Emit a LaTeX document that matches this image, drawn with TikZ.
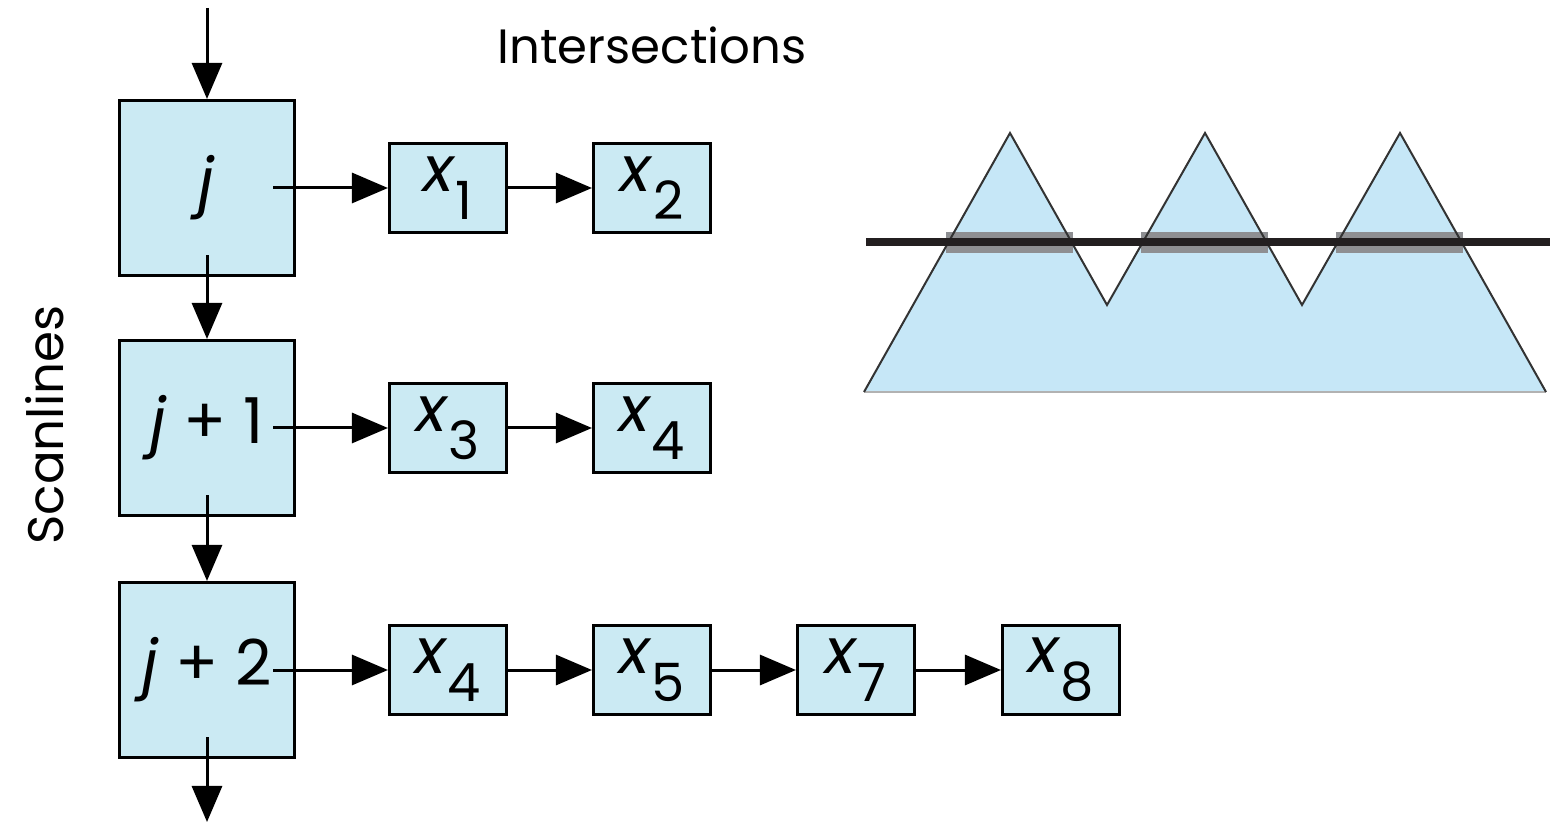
\documentclass[tikz,border=0pt]{standalone}
\usepackage{fontspec}
\setmainfont{Poppins}
\usetikzlibrary{arrows.meta,positioning}

\definecolor{boxblue}{HTML}{CBEAF3}
\definecolor{meshblue}{HTML}{C6E7F7}
\definecolor{bandgrey}{HTML}{8E8F92}
\definecolor{scanblack}{HTML}{231F20}

\tikzset{
  scanbox/.style={draw, fill=boxblue, line width=0.03cm, minimum width=1.75cm,
    minimum height=1.75cm, inner sep=0pt, font=\fontsize{18}{20}\selectfont},
  isectbox/.style={draw, fill=boxblue, line width=0.03cm, minimum width=1.17cm,
    minimum height=0.88cm, inner sep=0pt, font=\fontsize{18}{20}\selectfont},
  link/.style={line width=0.03cm, -{Triangle[length=0.36cm,width=0.3cm]}},
}
\newcommand{\isect}[1]{\textit{x}\raisebox{-0.8ex}{\fontsize{15}{15}\selectfont #1}}

\begin{document}
\begin{tikzpicture}[x=0.01cm, y=-0.01cm]
    \useasboundingbox (0,0) rectangle (1552,822);

    % scanline list
    \node[scanbox] (j0) at (207,188) {\textit{j}};
    \node[scanbox] (j1) at (207,428) {\textit{j} + 1};
    \node[scanbox] (j2) at (207,670) {\textit{j} + 2};
    \coordinate (in) at (207,8);
    \coordinate (out) at (207,822);

    % intersection lists
    \node[isectbox] (x1) at (448,188) {\isect{1}};
    \node[isectbox] (x2) at (652,188) {\isect{2}};
    \node[isectbox] (x3) at (448,428) {\isect{3}};
    \node[isectbox] (x4) at (652,428) {\isect{4}};
    \node[isectbox] (y4) at (448,670) {\isect{4}};
    \node[isectbox] (y5) at (652,670) {\isect{5}};
    \node[isectbox] (y7) at (856,670) {\isect{7}};
    \node[isectbox] (y8) at (1061,670) {\isect{8}};

    \node[font=\fontsize{13.7}{16}\selectfont] (title) at (652,45) {Intersections};
    \node[rotate=90, font=\fontsize{14.2}{16}\selectfont] (axis) at (45,425) {Scanlines};

    \draw[link] (in) -- (j0);
    \draw[link] ([yshift=0.22cm]j0.south) -- (j1);
    \draw[link] ([yshift=0.22cm]j1.south) -- (j2);
    \draw[link] ([yshift=0.22cm]j2.south) -- (out);

    \draw[link] ([xshift=-0.23cm]j0.east) -- (x1);
    \draw[link] (x1) -- (x2);
    \draw[link] ([xshift=-0.23cm]j1.east) -- (x3);
    \draw[link] (x3) -- (x4);
    \draw[link] ([xshift=-0.23cm]j2.east) -- (y4);
    \draw[link] (y4) -- (y5);
    \draw[link] (y5) -- (y7);
    \draw[link] (y7) -- (y8);

    % polygon cut by one scanline
    \fill[meshblue] (864,392) -- (1010,133) -- (1107,305) -- (1205,133)
      -- (1302,305) -- (1400,133) -- (1546,392) -- cycle;
    \fill[bandgrey] (946,232) rectangle (1073,253);
    \fill[bandgrey] (1141,232) rectangle (1268,253);
    \fill[bandgrey] (1336,232) rectangle (1463,253);
    \draw[black!30, line width=0.015cm] (864,392) -- (1546,392);
    \draw[black!80, line width=0.02cm, line join=miter] (864,392) -- (1010,133)
      -- (1107,305) -- (1205,133) -- (1302,305) -- (1400,133) -- (1546,392);
    \draw[scanblack, line width=0.08cm] (866,242) -- (1550,242);
\end{tikzpicture}
\end{document}
